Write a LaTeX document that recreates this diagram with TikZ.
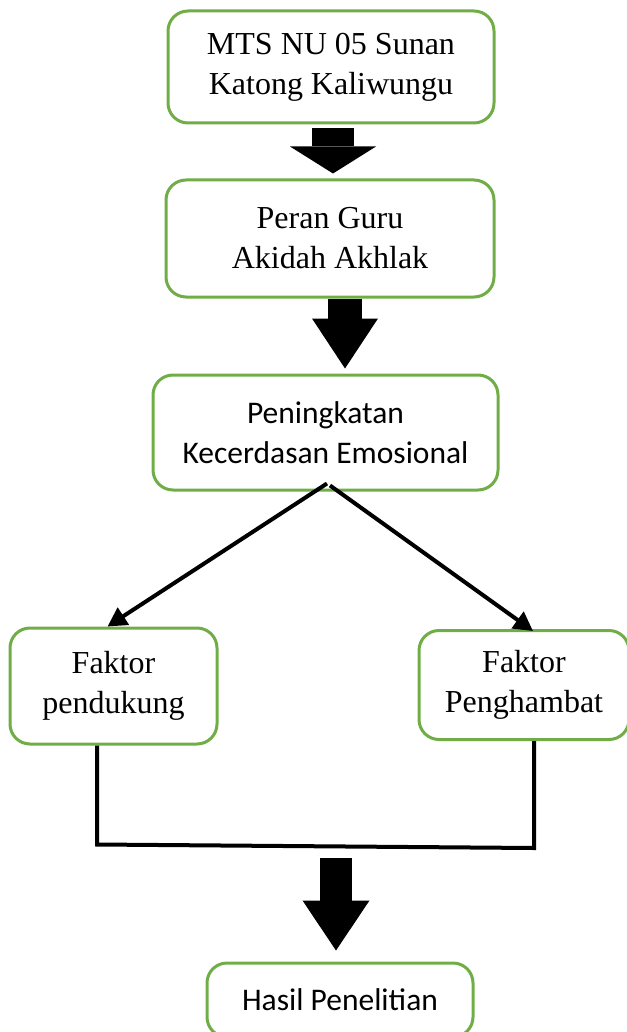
\documentclass[tikz,border=0pt]{standalone}
\usepackage{fontspec}
\usetikzlibrary{arrows.meta,calc}
\newfontfamily\timesfont{Liberation Serif}
\newfontfamily\calibrifont{Carlito}
\definecolor{hijau}{RGB}{112,173,71}

\begin{document}
\begin{tikzpicture}[x=1pt,y=-1pt]

      \tikzset{kotak/.style={draw=hijau, line width=3pt, rounded corners=20pt, align=center, inner sep=0pt},
               serif/.style={font=\timesfont\fontsize{32}{40}\selectfont},
               sans/.style={font=\calibrifont\fontsize{31.5}{40}\selectfont},
               blok/.style n args={3}{line width=#1, -{Triangle[width=#2, length=#3, line width=0pt 0]}},
               panah/.style={line width=4pt, -{Triangle[width=20pt, length=19pt]}},
               garis/.style={line width=4pt, line join=miter}}
      \useasboundingbox (0,0) rectangle (626,1032);
%% Boxes
      	\node[kotak, serif, minimum width=326pt, minimum height=112pt] (mts) at (331,67) {MTS NU 05 Sunan\\Katong Kaliwungu};
      	\node[kotak, serif, minimum width=328pt, minimum height=117pt] (peran) at (330,238.5) {Peran Guru\\Akidah Akhlak};
    	\node[kotak, sans, minimum width=345pt, minimum height=115pt] (ningkat) at (325.5,432.5) {Peningkatan\\Kecerdasan Emosional};
  	    \node[kotak, serif, minimum width=207pt, minimum height=116pt] (dukung) at (113.5,686) {Faktor\\pendukung};
     	\node[kotak, serif, minimum width=210pt, minimum height=109pt] (hambat) at (524,685) {Faktor\\Penghambat};
     	\node[kotak, sans, minimum width=266pt, minimum height=74pt] (hasil) at (340,1000) {Hasil Penelitian};
     	\coordinate (gabung) at (336,845);
%Connectors
		\draw[blok={42pt}{86pt}{27pt}, shorten <=4pt, shorten >=5pt] ($(mts.south)+(2,0)$) -- ($(peran.north)+(3,0)$);
		\draw[blok={34pt}{66pt}{50pt}, shorten >=5pt] ($(peran.south)+(15,0)$) -- ($(ningkat.north)+(19.5,0)$);
		\draw[panah] ($(ningkat.south)+(1.5,-8)$) -- ($(dukung.north)+(-6,0)$);
		\draw[panah] ($(ningkat.south)+(4.5,-6)$) -- ($(hambat.north)+(9,2)$);
		\draw[garis] ($(dukung.south)+(-16.5,0)$) -- ($(dukung.south)+(-16.5,99)$) -- ($(hambat.south)+(10,107)$) -- ($(hambat.south)+(10,0)$);
		\draw[blok={32pt}{67pt}{50pt}, shorten <=13pt, shorten >=11pt] (gabung) -- ($(hasil.north)+(-4,0)$);

	\end{tikzpicture}
\end{document}
